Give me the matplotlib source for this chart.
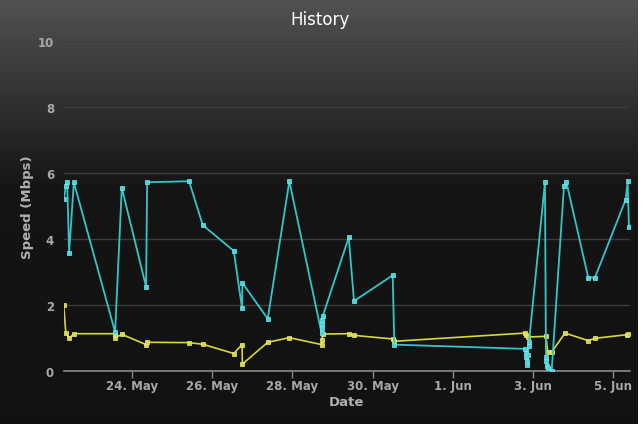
import numpy as np
import pandas as pd
import matplotlib
matplotlib.use('Agg')
import matplotlib.pyplot as plt

# download speed (cyan)
down_times = ['2014-05-22 07:20', '2014-05-22 08:33', '2014-05-22 09:20', '2014-05-22 10:31',
              '2014-05-22 13:20', '2014-05-23 14:01', '2014-05-23 18:01', '2014-05-24 08:33',
              '2014-05-24 09:09', '2014-05-25 10:15', '2014-05-25 18:26', '2014-05-26 12:58',
              '2014-05-26 17:56', '2014-05-26 18:07', '2014-05-27 09:17', '2014-05-27 22:12',
              '2014-05-28 17:27', '2014-05-28 17:40', '2014-05-28 17:50', '2014-05-28 18:00',
              '2014-05-28 18:10', '2014-05-29 09:43', '2014-05-29 12:53', '2014-05-30 12:01',
              '2014-05-30 12:58', '2014-06-02 19:16', '2014-06-02 19:30', '2014-06-02 19:50',
              '2014-06-02 20:05', '2014-06-02 20:20', '2014-06-02 20:53', '2014-06-02 21:19',
              '2014-06-02 21:30', '2014-06-03 07:03', '2014-06-03 07:39', '2014-06-03 07:50',
              '2014-06-03 08:00', '2014-06-03 09:01', '2014-06-03 11:04', '2014-06-03 18:25',
              '2014-06-03 19:48', '2014-06-04 08:56', '2014-06-04 12:56', '2014-06-05 07:18',
              '2014-06-05 08:30', '2014-06-05 09:16']
down_speed = [5.2, 5.6, 5.74, 3.58, 5.72, 1.18, 5.55, 2.55, 5.72, 5.75, 4.42, 3.64,
              1.9, 2.67, 1.58, 5.75, 1.15, 1.3, 1.42, 1.55, 1.66, 4.05, 2.12, 2.9,
              0.8, 0.67, 0.55, 0.41, 0.29, 0.18, 0.5, 0.75, 0.87, 5.72, 0.41, 0.29,
              0.16, 0.08, 0.01, 5.6, 5.74, 2.83, 2.83, 5.19, 5.75, 4.37]

# upload speed (yellow)
up_times = ['2014-05-22 07:15', '2014-05-22 08:33', '2014-05-22 10:31', '2014-05-22 13:20',
            '2014-05-23 14:01', '2014-05-23 14:10', '2014-05-23 18:01', '2014-05-24 08:33',
            '2014-05-24 09:09', '2014-05-25 10:15', '2014-05-25 18:26', '2014-05-26 12:58',
            '2014-05-26 17:56', '2014-05-26 18:07', '2014-05-27 09:17', '2014-05-27 22:12',
            '2014-05-28 17:30', '2014-05-28 17:45', '2014-05-28 18:10', '2014-05-29 09:43',
            '2014-05-29 12:53', '2014-05-30 12:01', '2014-05-30 12:58', '2014-06-02 19:16',
            '2014-06-02 20:00', '2014-06-02 20:40', '2014-06-03 07:39', '2014-06-03 08:40',
            '2014-06-03 11:04', '2014-06-03 19:00', '2014-06-04 08:56', '2014-06-04 12:56',
            '2014-06-05 07:54', '2014-06-05 08:42']
up_speed = [2.0, 1.15, 0.99, 1.13, 1.13, 1.01, 1.11, 0.8, 0.87, 0.86, 0.81, 0.53,
            0.8, 0.21, 0.87, 1.01, 0.8, 0.95, 1.12, 1.13, 1.08, 0.97, 0.9, 1.15,
            1.09, 1.03, 1.05, 0.59, 0.57, 1.15, 0.92, 0.99, 1.1, 1.13]

tick_days = ['2014-05-24', '2014-05-26', '2014-05-28', '2014-05-30',
             '2014-06-01', '2014-06-03', '2014-06-05']
tick_labels = ['24. May', '26. May', '28. May', '30. May', '1. Jun', '3. Jun', '5. Jun']

down_t = pd.to_datetime(down_times)
up_t = pd.to_datetime(up_times)

fig = plt.figure(figsize=(6.44, 4.31), dpi=100, facecolor='white')

# dark gradient background (small white margin at right/bottom)
bg = fig.add_axes([0, 6 / 431, 638 / 644, 425 / 431])
rows = np.linspace(0, 1, 300)
shade = np.interp(rows, [0, 0.45, 1], [0.32, 0.08, 0.07])
bg.imshow(shade[:, None, None] * np.ones((1, 2, 3)), aspect='auto',
          extent=[0, 1, 0, 1], origin='upper')
bg.axis('off')

ax = fig.add_axes([63.8 / 644, 59 / 431, (629.6 - 63.8) / 644, 330 / 431])
ax.patch.set_alpha(0)

ax.plot(up_t, up_speed, color='#d8d83a', lw=1.2, marker='s', ms=2.6,
        mfc='#d8d83a', mec='#eeee88', mew=0.5, zorder=3)
ax.plot(down_t, down_speed, color='#33c6c9', lw=1.3, marker='s', ms=3.2,
        mfc='#40d8dc', mec='#80ecee', mew=0.5, zorder=4)

ax.set_ylim(0, 10)
ax.set_yticks([0, 2, 4, 6, 8, 10])
ax.set_xlim(pd.Timestamp('2014-05-22 07:20'), pd.Timestamp('2014-06-05 09:40'))
ax.set_xticks(pd.to_datetime(tick_days))
ax.set_xticklabels(tick_labels)

ax.grid(axis='y', color='#3c3c3c', lw=1)
ax.set_axisbelow(True)
for s in ['top', 'right', 'left']:
    ax.spines[s].set_visible(False)
ax.spines['bottom'].set_color('#8a8a8a')
ax.spines['bottom'].set_linewidth(1.2)

ax.tick_params(axis='x', colors='#8a8a8a', length=5, width=1, labelcolor='#a8a8a8',
               labelsize=8.5, pad=1)
ax.tick_params(axis='y', length=0, labelcolor='#a8a8a8', labelsize=8.5, pad=7)
for lab in ax.get_xticklabels() + ax.get_yticklabels():
    lab.set_fontweight('bold')

ax.set_xlabel('Date', color='#b0b0b0', fontsize=9.5, fontweight='bold', labelpad=2)
ax.set_ylabel('Speed (Mbps)', color='#b0b0b0', fontsize=9.5, fontweight='bold', labelpad=3)
fig.text(320 / 644, 1 - 20 / 431, 'History', color='white', fontsize=12,
         ha='center', va='center')

fig.savefig('out.png', dpi=100, facecolor='white')
